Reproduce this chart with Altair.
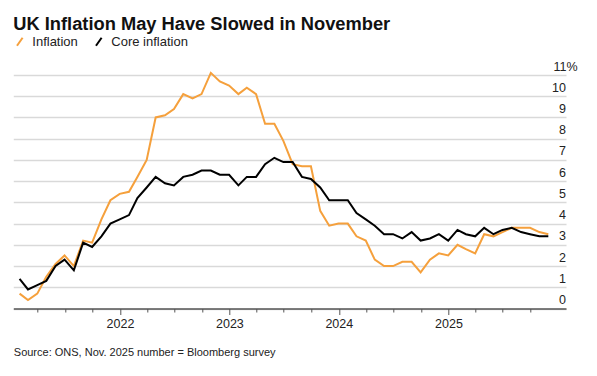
import altair as alt
import pandas as pd

months = [d.strftime("%Y-%m-%d") for d in pd.date_range("2021-01-31", periods=59, freq="ME")]

inflation = [
    0.7, 0.4, 0.7, 1.5, 2.1, 2.5, 2.0, 3.2, 3.1, 4.2, 5.1, 5.4,
    5.5, 6.2, 7.0, 9.0, 9.1, 9.4, 10.1, 9.9, 10.1, 11.1, 10.7, 10.5,
    10.1, 10.4, 10.1, 8.7, 8.7, 7.9, 6.8, 6.7, 6.7, 4.6, 3.9, 4.0,
    4.0, 3.4, 3.2, 2.3, 2.0, 2.0, 2.2, 2.2, 1.7, 2.3, 2.6, 2.5,
    3.0, 2.8, 2.6, 3.5, 3.4, 3.6, 3.8, 3.8, 3.8, 3.6, 3.5,
]
core = [
    1.4, 0.9, 1.1, 1.3, 2.0, 2.3, 1.8, 3.1, 2.9, 3.4, 4.0, 4.2,
    4.4, 5.2, 5.7, 6.2, 5.9, 5.8, 6.2, 6.3, 6.5, 6.5, 6.3, 6.3,
    5.8, 6.2, 6.2, 6.8, 7.1, 6.9, 6.9, 6.2, 6.1, 5.7, 5.1, 5.1,
    5.1, 4.5, 4.2, 3.9, 3.5, 3.5, 3.3, 3.6, 3.2, 3.3, 3.5, 3.2,
    3.7, 3.5, 3.4, 3.8, 3.5, 3.7, 3.8, 3.6, 3.5, 3.4, 3.4,
]
series_names = ["Inflation", "Core inflation"]
series_colors = ["#f5a03c", "#000000"]
y_ticks = list(range(0, 12))

rows = []
for name, vals in zip(series_names, [inflation, core]):
    for m, v in zip(months, vals):
        rows.append({"date": m + "T00:00:00", "value": v, "series": name})
df = pd.DataFrame(rows)

quarter_ticks = [alt.DateTime(year=y, month=mo, date=1)
                 for y in range(2021, 2026) for mo in (1, 4, 7, 10)
                 if not (y == 2021 and mo == 1)]

FONT = "Liberation Sans"

chart = alt.Chart(df).mark_line(strokeWidth=2, strokeJoin="miter").encode(
    x=alt.X("date:T",
            scale=alt.Scale(domain=[alt.DateTime(year=2021, month=1, date=10),
                                    alt.DateTime(year=2026, month=1, date=28)]),
            axis=alt.Axis(
                values=quarter_ticks,
                labelExpr="month(datum.value) == 0 ? timeFormat(datum.value, '%Y') : ''",
                grid=False,
                domainColor="#555555", domainWidth=1.5,
                tickColor="#555555", tickWidth=1,
                tickSize={"condition": {"test": "month(datum.value) == 0", "value": 6}, "value": 3.5},
                labelFont=FONT, labelFontSize=12.5, labelColor="#222222",
                labelPadding=3, labelFlush=False,
                title="Source: ONS, Nov. 2025 number = Bloomberg survey",
                titleFont=FONT, titleFontSize=11, titleFontWeight="normal",
                titleColor="#222222", titleAnchor="start", titleAlign="left",
                titleX=0, titleY=47, titleBaseline="alphabetic",
            )),
    y=alt.Y("value:Q",
            scale=alt.Scale(domain=[0, 11], nice=False, zero=True),
            axis=alt.Axis(
                orient="right", values=y_ticks,
                labelExpr="datum.value == 11 ? '11%' : datum.label",
                domain=False, ticks=False, tickSize=0,
                gridColor="#d9d9d9", gridWidth=1.3,
                labelFont=FONT, labelFontSize=12.5, labelColor="#222222",
                labelAlign="right", labelBaseline="alphabetic", labelOffset=-5,
                labelPadding={"condition": {"test": "datum.value == 11", "value": 11}, "value": -0.5},
                title=None,
            )),
    color=alt.Color("series:N",
                    scale=alt.Scale(domain=series_names, range=series_colors),
                    legend=alt.Legend(
                        title=None, orient="none", direction="horizontal",
                        legendX=0, legendY=-40,
                        symbolType="M-0.7,1L0.7,-1", symbolSize=64,
                        symbolStrokeWidth=2,
                        labelFont=FONT, labelFontSize=13, labelColor="#222222",
                        labelOffset=6, columnPadding=13,
                    )),
).properties(
    width=552.7,
    height=233.5,
    autosize=alt.AutoSizeParams(type="none"),
    padding={"left": 13.3, "top": 75, "right": 31, "bottom": 67.5},
    title=alt.TitleParams(
        "UK Inflation May Have Slowed in November",
        font=FONT, fontSize=18.3, fontWeight="bold", color="#111111",
        anchor="start", frame="group", offset=0, dy=-1,
    ),
    background="white",
).configure_view(stroke=None)

chart.save("out.html", embed_options={"renderer": "svg", "actions": False})
